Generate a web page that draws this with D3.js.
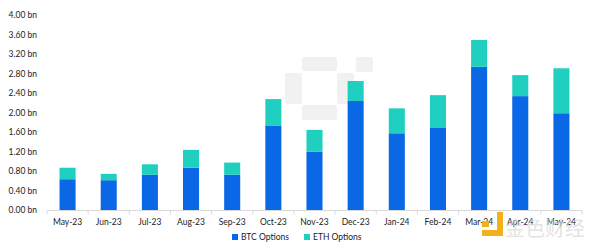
<!DOCTYPE html>
<html lang="en">
<head>
	<meta charset="UTF-8">
	<title>BTC and ETH options</title>
	<script src="https://cdn.jsdelivr.net/npm/d3@7"></script>
	<style type="text/css">
		body { margin: 0; background: #fff; }
		text { font-family: Lato, "Open Sans", sans-serif; fill: #222; }
		.axis path, .axis line { stroke: #d9d9d9; }
	</style>
</head>
<body>
<script type="text/javascript">
	var months = ['May-23', 'Jun-23', 'Jul-23', 'Aug-23', 'Sep-23', 'Oct-23', 'Nov-23',
		'Dec-23', 'Jan-24', 'Feb-24', 'Mar-24', 'Apr-24', 'May-24'];
	var btc = [0.64, 0.62, 0.73, 0.875, 0.73, 1.74, 1.20, 2.24, 1.58, 1.70, 2.94, 2.34, 1.99];
	var eth = [0.235, 0.13, 0.215, 0.365, 0.25, 0.54, 0.45, 0.41, 0.51, 0.66, 0.55, 0.43, 0.92];
	var yTicks = [0, 0.4, 0.8, 1.2, 1.6, 2.0, 2.4, 2.8, 3.2, 3.6, 4.0];
	var seriesNames = ['BTC Options', 'ETH Options'];
	var colors = ['#0a68e6', '#1fd0c0'];

	var width = 598, height = 248;
	var margin = {top: 15, left: 47, bottom: 37, right: 16};

	var svg = d3.select('body').append('svg')
		.attr('width', width)
		.attr('height', height);

	var x = d3.scaleBand()
		.domain(months)
		.range([margin.left, width - margin.right])
		.paddingInner(0.61)
		.paddingOuter(0.305);

	var y = d3.scaleLinear()
		.domain([0, 4])
		.range([height - margin.bottom - 0.5, margin.top]);

	// faint background logo watermark
	var wm = svg.append('g').attr('fill', '#f1f1f1');
	[[302, 57, 35, 14], [285, 73, 17, 31], [337, 73, 17, 31], [302, 105, 35, 15], [356, 57, 17, 15]]
		.forEach(function (r) {
			wm.append('rect').attr('x', r[0]).attr('y', r[1]).attr('width', r[2]).attr('height', r[3]).attr('rx', 2);
		});

	var data = months.map(function (m, i) {
		return {month: m, btc: btc[i], eth: eth[i]};
	});
	var stacked = d3.stack().keys(['btc', 'eth'])(data);

	svg.selectAll('.layer')
		.data(stacked)
		.enter().append('g')
		.attr('class', 'layer')
		.attr('fill', function (d, i) { return colors[i]; })
		.selectAll('rect')
		.data(function (d) { return d; })
		.enter().append('rect')
		.attr('x', function (d) { return x(d.data.month); })
		.attr('width', x.bandwidth())
		.attr('y', function (d) { return y(d[1]); })
		.attr('height', function (d) { return y(d[0]) - y(d[1]); });

	// y labels (no axis line)
	svg.selectAll('.ylab')
		.data(yTicks)
		.enter().append('text')
		.attr('class', 'ylab')
		.attr('x', 37)
		.attr('y', function (d) { return y(d); })
		.attr('dy', '0.35em')
		.attr('text-anchor', 'end')
		.style('font-size', '8.5px')
		.text(function (d) { return d.toFixed(2) + ' bn'; });

	// x axis with ticks on band edges
	var base = y(0);
	var ax = svg.append('g').attr('class', 'axis');
	ax.append('line')
		.attr('x1', margin.left).attr('x2', width - margin.right)
		.attr('y1', base).attr('y2', base);
	var step = x.step();
	d3.range(months.length + 1).forEach(function (i) {
		var xx = margin.left + i * step;
		ax.append('line').attr('x1', xx).attr('x2', xx).attr('y1', base).attr('y2', base + 4);
	});
	ax.selectAll('.xlab')
		.data(months)
		.enter().append('text')
		.attr('class', 'xlab')
		.attr('x', function (d) { return x(d) + x.bandwidth() / 2; })
		.attr('y', base + 12)
		.attr('dy', '0.35em')
		.attr('text-anchor', 'middle')
		.style('font-size', '8.5px')
		.text(function (d) { return d; });

	// legend
	var lx = [232, 304];
	var leg = svg.selectAll('.leg')
		.data(seriesNames)
		.enter().append('g')
		.attr('class', 'leg')
		.attr('transform', function (d, i) { return 'translate(' + lx[i] + ',' + 237 + ')'; });
	leg.append('rect')
		.attr('x', 0).attr('y', -3)
		.attr('width', 6).attr('height', 6)
		.attr('fill', function (d, i) { return colors[i]; });
	leg.append('text')
		.attr('x', 9)
		.attr('dy', '0.35em')
		.style('font-size', '8.5px')
		.text(function (d) { return d; });

	// bottom-right text watermark
	var wt = svg.append('g').attr('transform', 'translate(505,229)');
	wt.append('rect').attr('x', -8).attr('y', -17).attr('width', 6).attr('height', 24).attr('fill', '#f2b01e');
	wt.append('rect').attr('x', -23).attr('y', 1).attr('width', 21).attr('height', 6).attr('fill', '#f2b01e');
	wt.append('rect').attr('x', -23).attr('y', -8).attr('width', 7).attr('height', 6).attr('fill', '#f2b01e');
	wt.append('text')
		.attr('x', 0).attr('dy', '0.35em')
		.style('font-family', '"Noto Sans CJK SC", sans-serif')
		.style('font-size', '20px')
		.style('fill', 'rgba(215,215,215,0.7)')
		.text('金色财经');
</script>
</body>
</html>
